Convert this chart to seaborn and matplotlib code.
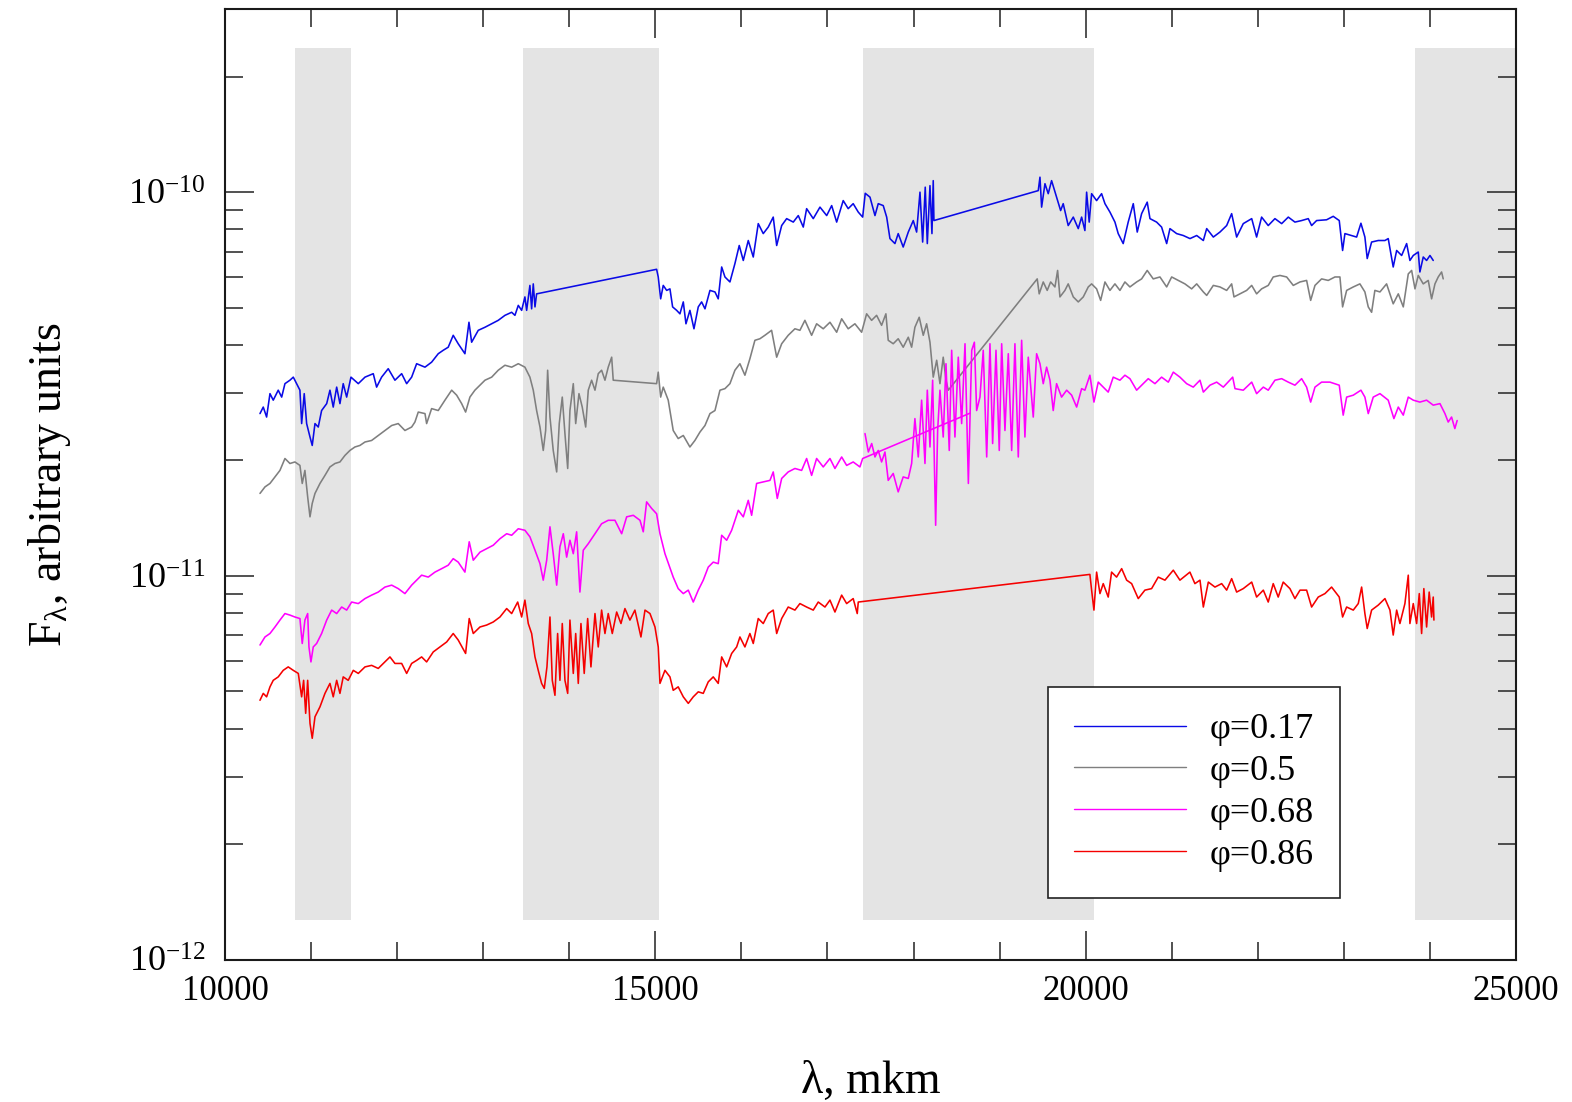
import numpy as np
import pandas as pd
import matplotlib
matplotlib.use("Agg")
import matplotlib.pyplot as plt
import seaborn as sns
from matplotlib.ticker import FixedLocator, MultipleLocator, LogLocator, NullFormatter, FuncFormatter

# ---------------------------------------------------------------------------
# Spectra: wavelength (Angstrom) and log10 of F_lambda for each phase
# ---------------------------------------------------------------------------
lam_017 = [
    10407, 10445, 10484, 10523, 10561, 10619, 10659, 10697, 10755, 10794,
    10833, 10871, 10891, 10921, 10949, 10988, 11014, 11046, 11084, 11123,
    11182, 11220, 11258, 11298, 11336, 11374, 11414, 11464, 11549, 11627,
    11723, 11762, 11820, 11897, 11975, 12053, 12111, 12169, 12227, 12324,
    12401, 12478, 12536, 12594, 12652, 12710, 12788, 12835, 12866, 12943,
    13021, 13099, 13175, 13253, 13331, 13369, 13408, 13447, 13485, 13505,
    13543, 13563, 13582, 13602, 13621, 15015, 15034, 15062, 15092, 15132,
    15170, 15201, 15248, 15286, 15325, 15356, 15402, 15449, 15499, 15538,
    15577, 15635, 15693, 15731, 15771, 15809, 15867, 15925, 15975, 16022,
    16080, 16138, 16196, 16254, 16312, 16370, 16410, 16468, 16526, 16603,
    16661, 16719, 16758, 16835, 16913, 16991, 17049, 17107, 17183, 17241,
    17299, 17358, 17409, 17439, 17494, 17552, 17590, 17648, 17688, 17726,
    17784, 17822, 17880, 17939, 17997, 18036, 18075, 18106, 18136, 18160,
    18191, 18214, 18229, 18237, 19449, 19469, 19488, 19527, 19565, 19604,
    19662, 19709, 19739, 19797, 19856, 19914, 19953, 19991, 20011, 20041,
    20069, 20127, 20185, 20224, 20282, 20340, 20378, 20436, 20494, 20553,
    20599, 20650, 20715, 20747, 20824, 20882, 20941, 20979, 21057, 21134,
    21212, 21290, 21367, 21406, 21483, 21560, 21638, 21696, 21754, 21831,
    21929, 21986, 22044, 22121, 22199, 22277, 22354, 22431, 22509, 22586,
    22625, 22683, 22799, 22876, 22946, 22985, 23012, 23090, 23148, 23198,
    23244, 23271, 23322, 23399, 23477, 23515, 23573, 23613, 23671, 23729,
    23767, 23806, 23864, 23883, 23922, 23961, 24000, 24038,
]
lgf_017 = [
    -10.577, -10.560, -10.586, -10.525, -10.542, -10.516, -10.534, -10.499, -10.490, -10.482,
    -10.499, -10.516, -10.603, -10.525, -10.603, -10.638, -10.660, -10.603, -10.612, -10.569,
    -10.551, -10.516, -10.560, -10.508, -10.551, -10.499, -10.534, -10.482, -10.499, -10.482,
    -10.473, -10.508, -10.482, -10.460, -10.490, -10.473, -10.499, -10.482, -10.447, -10.456,
    -10.443, -10.421, -10.412, -10.404, -10.373, -10.395, -10.421, -10.339, -10.391, -10.360,
    -10.352, -10.343, -10.334, -10.321, -10.313, -10.321, -10.295, -10.308, -10.273, -10.308,
    -10.243, -10.304, -10.239, -10.299, -10.265, -10.201, -10.221, -10.278, -10.243, -10.256,
    -10.252, -10.299, -10.308, -10.317, -10.286, -10.343, -10.308, -10.356, -10.299, -10.286,
    -10.304, -10.256, -10.260, -10.278, -10.195, -10.221, -10.234, -10.186, -10.139, -10.178,
    -10.126, -10.169, -10.082, -10.108, -10.091, -10.065, -10.139, -10.087, -10.069, -10.078,
    -10.061, -10.091, -10.043, -10.069, -10.039, -10.061, -10.035, -10.078, -10.022, -10.043,
    -10.030, -10.052, -10.065, -10.003, -10.013, -10.061, -10.030, -10.035, -10.065, -10.121,
    -10.134, -10.108, -10.143, -10.104, -10.074, -10.104, -10.000, -10.130, -9.987, -10.134,
    -9.983, -10.108, -9.970, -10.074, -9.996, -9.961, -10.039, -9.978, -10.004, -9.970,
    -10.013, -10.048, -10.030, -10.087, -10.065, -10.095, -10.065, -10.100, -10.000, -10.078,
    -10.004, -10.022, -10.004, -10.030, -10.052, -10.078, -10.108, -10.134, -10.078, -10.030,
    -10.104, -10.056, -10.026, -10.069, -10.078, -10.091, -10.134, -10.095, -10.108, -10.113,
    -10.121, -10.113, -10.126, -10.095, -10.117, -10.104, -10.087, -10.056, -10.117, -10.082,
    -10.069, -10.117, -10.065, -10.087, -10.069, -10.082, -10.065, -10.078, -10.074, -10.069,
    -10.087, -10.074, -10.072, -10.063, -10.074, -10.152, -10.108, -10.113, -10.117, -10.081,
    -10.117, -10.173, -10.130, -10.126, -10.126, -10.121, -10.195, -10.152, -10.165, -10.134,
    -10.178, -10.165, -10.156, -10.208, -10.169, -10.178, -10.165, -10.178,
]

lam_050 = [
    10407, 10465, 10523, 10581, 10639, 10697, 10755, 10813, 10871, 10898,
    10929, 10961, 10988, 11014, 11046, 11104, 11162, 11220, 11278, 11336,
    11394, 11452, 11510, 11568, 11627, 11704, 11781, 11859, 11937, 12013,
    12091, 12169, 12207, 12246, 12324, 12343, 12401, 12478, 12556, 12634,
    12692, 12750, 12796, 12846, 12904, 13021, 13099, 13175, 13253, 13331,
    13408, 13485, 13543, 13582, 13621, 13660, 13698, 13726, 13749, 13776,
    13814, 13854, 13884, 13919, 13950, 13982, 14008, 14047, 14075, 14113,
    14151, 14191, 14221, 14260, 14299, 14337, 14376, 14415, 14453, 14493,
    14511, 15015, 15034, 15062, 15092, 15150, 15208, 15266, 15325, 15402,
    15460, 15519, 15577, 15635, 15693, 15751, 15809, 15867, 15925, 15983,
    16041, 16099, 16157, 16215, 16273, 16351, 16410, 16468, 16544, 16622,
    16680, 16738, 16816, 16874, 16951, 17029, 17107, 17165, 17241, 17319,
    17397, 17455, 17513, 17571, 17629, 17679, 17706, 17764, 17822, 17880,
    17939, 17978, 18016, 18066, 18113, 18152, 18191, 18229, 18269, 18307,
    18345, 18377, 18404, 19437, 19460, 19507, 19553, 19593, 19643, 19674,
    19701, 19759, 19797, 19856, 19914, 19972, 20030, 20069, 20127, 20174,
    20224, 20282, 20340, 20398, 20456, 20514, 20592, 20650, 20715, 20785,
    20863, 20941, 20999, 21076, 21153, 21231, 21290, 21367, 21406, 21483,
    21560, 21638, 21696, 21723, 21792, 21870, 21929, 21986, 22044, 22121,
    22179, 22257, 22335, 22412, 22490, 22567, 22614, 22664, 22741, 22818,
    22896, 22954, 22985, 23032, 23109, 23186, 23244, 23283, 23322, 23360,
    23419, 23496, 23573, 23632, 23690, 23748, 23787, 23826, 23864, 23922,
    23980, 24019, 24058, 24096, 24135, 24154,
]
lgf_050 = [
    -10.785, -10.768, -10.759, -10.742, -10.725, -10.694, -10.707, -10.703, -10.712, -10.759,
    -10.725, -10.794, -10.846, -10.811, -10.785, -10.759, -10.738, -10.716, -10.707, -10.703,
    -10.686, -10.673, -10.664, -10.660, -10.651, -10.647, -10.634, -10.621, -10.608, -10.603,
    -10.621, -10.612, -10.599, -10.573, -10.577, -10.603, -10.564, -10.569, -10.542, -10.516,
    -10.529, -10.551, -10.573, -10.534, -10.516, -10.490, -10.482, -10.464, -10.451, -10.456,
    -10.447, -10.456, -10.482, -10.516, -10.569, -10.612, -10.673, -10.621, -10.464, -10.586,
    -10.673, -10.729, -10.603, -10.534, -10.629, -10.720, -10.569, -10.499, -10.603, -10.525,
    -10.560, -10.612, -10.516, -10.490, -10.516, -10.473, -10.464, -10.490, -10.456, -10.430,
    -10.490, -10.499, -10.469, -10.534, -10.508, -10.542, -10.621, -10.642, -10.634, -10.664,
    -10.647, -10.625, -10.608, -10.577, -10.569, -10.516, -10.512, -10.499, -10.464, -10.447,
    -10.477, -10.434, -10.386, -10.382, -10.373, -10.360, -10.430, -10.395, -10.373, -10.356,
    -10.360, -10.334, -10.373, -10.343, -10.356, -10.339, -10.365, -10.330, -10.356, -10.343,
    -10.365, -10.317, -10.334, -10.321, -10.347, -10.317, -10.386, -10.395, -10.382, -10.404,
    -10.378, -10.404, -10.352, -10.326, -10.373, -10.343, -10.391, -10.482, -10.438, -10.499,
    -10.430, -10.490, -10.516, -10.226, -10.265, -10.234, -10.256, -10.234, -10.247, -10.204,
    -10.273, -10.256, -10.239, -10.273, -10.286, -10.273, -10.247, -10.239, -10.252, -10.282,
    -10.234, -10.256, -10.239, -10.256, -10.234, -10.247, -10.234, -10.226, -10.204, -10.226,
    -10.221, -10.247, -10.221, -10.230, -10.239, -10.252, -10.239, -10.260, -10.269, -10.243,
    -10.247, -10.256, -10.239, -10.273, -10.265, -10.256, -10.243, -10.265, -10.252, -10.243,
    -10.221, -10.217, -10.221, -10.243, -10.234, -10.230, -10.282, -10.243, -10.226, -10.230,
    -10.221, -10.221, -10.299, -10.256, -10.247, -10.239, -10.260, -10.299, -10.313, -10.256,
    -10.260, -10.239, -10.291, -10.265, -10.299, -10.213, -10.204, -10.252, -10.217, -10.239,
    -10.230, -10.278, -10.239, -10.221, -10.208, -10.226,
]

# phase 0.68 is stored as two pieces: the blue part (ending in a jump)
# and the red part of the spectrum
lam_068a = [
    10407, 10465, 10523, 10581, 10639, 10697, 10755, 10813, 10871, 10898,
    10929, 10961, 10976, 10999, 11026, 11065, 11123, 11182, 11240, 11298,
    11356, 11414, 11472, 11549, 11627, 11704, 11781, 11859, 11937, 12013,
    12091, 12169, 12227, 12285, 12362, 12440, 12518, 12594, 12652, 12710,
    12788, 12838, 12885, 12963, 13040, 13117, 13195, 13273, 13331, 13408,
    13485, 13543, 13602, 13660, 13698, 13738, 13776, 13814, 13854, 13892,
    13931, 13970, 14008, 14047, 14086, 14124, 14163, 14221, 14299, 14376,
    14453, 14531, 14609, 14667, 14744, 14822, 14860, 14899, 14957, 15015,
    15054, 15112, 15208, 15266, 15325, 15383, 15441, 15499, 15557, 15615,
    15673, 15731, 15771, 15829, 15887, 15964, 16022, 16080, 16119, 16177,
    16254, 16332, 16370, 16417, 16468, 16544, 16622, 16700, 16758, 16816,
    16874, 16951, 17029, 17087, 17165, 17223, 17299, 17377, 17409, 18655,
]
lgf_068a = [
    -11.180, -11.159, -11.150, -11.133, -11.115, -11.098, -11.102, -11.107, -11.111, -11.176,
    -11.115, -11.098, -11.185, -11.224, -11.185, -11.176, -11.150, -11.115, -11.089, -11.098,
    -11.081, -11.089, -11.068, -11.072, -11.059, -11.050, -11.042, -11.029, -11.024, -11.033,
    -11.046, -11.024, -11.011, -10.998, -11.003, -10.990, -10.981, -10.972, -10.955, -10.964,
    -10.990, -10.911, -10.959, -10.938, -10.929, -10.920, -10.903, -10.890, -10.894, -10.877,
    -10.881, -10.898, -10.933, -10.968, -11.011, -10.959, -10.872, -10.942, -11.024, -10.924,
    -10.890, -10.951, -10.907, -10.942, -10.885, -11.042, -10.933, -10.916, -10.890, -10.864,
    -10.855, -10.855, -10.890, -10.846, -10.842, -10.855, -10.885, -10.807, -10.824, -10.838,
    -10.890, -10.942, -11.003, -11.033, -11.046, -11.037, -11.068, -11.037, -11.011, -10.977,
    -10.964, -10.968, -10.894, -10.907, -10.881, -10.829, -10.846, -10.803, -10.842, -10.759,
    -10.755, -10.751, -10.729, -10.798, -10.746, -10.729, -10.720, -10.725, -10.694, -10.738,
    -10.694, -10.716, -10.694, -10.720, -10.690, -10.712, -10.703, -10.716, -10.694, -10.576,
]
lam_068b = [
    17436, 17475, 17514, 17552, 17590, 17629, 17668, 17706, 17764, 17822,
    17880, 17939, 17978, 18016, 18055, 18094, 18133, 18160, 18191, 18222,
    18257, 18280, 18307, 18345, 18377, 18415, 18443, 18481, 18520, 18559,
    18598, 18637, 18676, 18707, 18733, 18772, 18810, 18850, 18888, 18919,
    18958, 18996, 19024, 19062, 19101, 19140, 19178, 19217, 19256, 19294,
    19333, 19391, 19430, 19469, 19507, 19546, 19585, 19623, 19662, 19720,
    19779, 19837, 19895, 19953, 19991, 20049, 20096, 20146, 20204, 20262,
    20320, 20398, 20456, 20514, 20592, 20669, 20727, 20805, 20882, 20960,
    21018, 21095, 21173, 21250, 21328, 21367, 21444, 21522, 21599, 21708,
    21735, 21831, 21929, 21986, 22064, 22121, 22199, 22277, 22354, 22431,
    22509, 22567, 22614, 22664, 22741, 22838, 22946, 22992, 23032, 23109,
    23198, 23244, 23283, 23341, 23419, 23515, 23581, 23632, 23690, 23748,
    23806, 23883, 23961, 24038, 24116, 24174, 24212, 24251, 24289, 24316,
]
lgf_068b = [
    -10.629, -10.677, -10.655, -10.690, -10.673, -10.703, -10.677, -10.751, -10.733, -10.781,
    -10.742, -10.746, -10.707, -10.590, -10.690, -10.542, -10.707, -10.516, -10.664, -10.490,
    -10.868, -10.621, -10.516, -10.638, -10.447, -10.673, -10.412, -10.638, -10.430, -10.603,
    -10.395, -10.759, -10.412, -10.391, -10.569, -10.534, -10.412, -10.690, -10.395, -10.655,
    -10.412, -10.673, -10.395, -10.621, -10.421, -10.673, -10.395, -10.690, -10.386, -10.638,
    -10.430, -10.586, -10.421, -10.447, -10.499, -10.456, -10.490, -10.569, -10.499, -10.534,
    -10.516, -10.529, -10.560, -10.512, -10.516, -10.477, -10.547, -10.495, -10.508, -10.521,
    -10.482, -10.490, -10.477, -10.486, -10.516, -10.499, -10.486, -10.499, -10.482, -10.495,
    -10.469, -10.482, -10.499, -10.508, -10.490, -10.521, -10.503, -10.495, -10.508, -10.482,
    -10.512, -10.516, -10.495, -10.525, -10.508, -10.516, -10.490, -10.486, -10.495, -10.503,
    -10.486, -10.508, -10.547, -10.508, -10.495, -10.495, -10.503, -10.581, -10.534, -10.529,
    -10.516, -10.534, -10.577, -10.534, -10.525, -10.542, -10.590, -10.560, -10.581, -10.534,
    -10.542, -10.547, -10.542, -10.555, -10.551, -10.577, -10.599, -10.586, -10.616, -10.595,
]

lam_086 = [
    10407, 10445, 10484, 10523, 10561, 10619, 10677, 10735, 10794, 10852,
    10891, 10914, 10938, 10961, 10988, 11014, 11046, 11104, 11162, 11220,
    11258, 11298, 11336, 11374, 11432, 11491, 11549, 11627, 11704, 11781,
    11859, 11917, 11975, 12053, 12111, 12169, 12227, 12285, 12343, 12420,
    12498, 12576, 12652, 12710, 12796, 12838, 12885, 12963, 13040, 13117,
    13195, 13273, 13331, 13401, 13447, 13485, 13524, 13563, 13602, 13640,
    13679, 13710, 13741, 13776, 13803, 13834, 13865, 13892, 13919, 13950,
    13982, 14008, 14047, 14075, 14105, 14136, 14174, 14214, 14252, 14299,
    14337, 14376, 14415, 14453, 14500, 14551, 14601, 14647, 14705, 14763,
    14833, 14880, 14938, 14996, 15034, 15054, 15112, 15170, 15208, 15266,
    15325, 15383, 15441, 15499, 15557, 15615, 15673, 15731, 15771, 15829,
    15887, 15945, 15983, 16041, 16099, 16138, 16196, 16254, 16312, 16370,
    16410, 16468, 16544, 16622, 16680, 16758, 16835, 16893, 16971, 17029,
    17087, 17165, 17223, 17299, 17346, 17358, 20049, 20069, 20096, 20127,
    20166, 20204, 20262, 20301, 20359, 20418, 20476, 20534, 20611, 20688,
    20766, 20843, 20921, 21018, 21095, 21211, 21269, 21328, 21367, 21425,
    21502, 21580, 21638, 21696, 21754, 21831, 21929, 21986, 22064, 22121,
    22179, 22237, 22295, 22373, 22431, 22490, 22567, 22625, 22702, 22780,
    22857, 22946, 22985, 23032, 23109, 23167, 23206, 23244, 23271, 23322,
    23399, 23477, 23535, 23573, 23613, 23651, 23709, 23748, 23767, 23806,
    23845, 23876, 23903, 23929, 23961, 23991, 24019, 24038, 24046,
]
lgf_086 = [
    -11.324, -11.306, -11.315, -11.289, -11.272, -11.263, -11.246, -11.237, -11.246, -11.254,
    -11.315, -11.272, -11.358, -11.272, -11.384, -11.423, -11.367, -11.341, -11.306, -11.280,
    -11.315, -11.272, -11.306, -11.263, -11.272, -11.246, -11.254, -11.237, -11.233, -11.241,
    -11.224, -11.211, -11.228, -11.228, -11.254, -11.228, -11.220, -11.211, -11.224, -11.198,
    -11.185, -11.172, -11.150, -11.167, -11.202, -11.111, -11.150, -11.133, -11.128, -11.120,
    -11.107, -11.085, -11.098, -11.068, -11.107, -11.063, -11.124, -11.150, -11.211, -11.246,
    -11.280, -11.293, -11.237, -11.107, -11.272, -11.311, -11.150, -11.272, -11.124, -11.272,
    -11.306, -11.115, -11.254, -11.150, -11.280, -11.124, -11.254, -11.111, -11.237, -11.098,
    -11.185, -11.089, -11.150, -11.098, -11.150, -11.094, -11.124, -11.085, -11.115, -11.089,
    -11.159, -11.089, -11.098, -11.133, -11.185, -11.280, -11.246, -11.263, -11.298, -11.289,
    -11.315, -11.332, -11.315, -11.302, -11.306, -11.276, -11.263, -11.280, -11.211, -11.237,
    -11.202, -11.185, -11.159, -11.185, -11.150, -11.176, -11.111, -11.124, -11.098, -11.089,
    -11.150, -11.111, -11.081, -11.089, -11.072, -11.081, -11.089, -11.068, -11.081, -11.063,
    -11.094, -11.050, -11.072, -11.059, -11.098, -11.068, -10.996, -11.037, -11.089, -10.990,
    -11.046, -11.020, -11.055, -10.990, -11.003, -10.981, -11.011, -11.020, -11.059, -11.037,
    -11.033, -11.003, -11.011, -10.985, -11.011, -10.990, -11.020, -11.011, -11.081, -11.016,
    -11.029, -11.020, -11.037, -11.007, -11.042, -11.033, -11.016, -11.055, -11.037, -11.068,
    -11.020, -11.055, -11.016, -11.033, -11.059, -11.037, -11.037, -11.081, -11.055, -11.046,
    -11.029, -11.055, -11.107, -11.081, -11.089, -11.072, -11.029, -11.098, -11.137, -11.089,
    -11.076, -11.059, -11.089, -11.154, -11.089, -11.124, -11.072, -10.998, -11.124, -11.072,
    -11.124, -11.046, -11.150, -11.033, -11.133, -11.042, -11.107, -11.055, -11.115,
]

phase_labels = ["φ=0.17", "φ=0.5", "φ=0.68", "φ=0.86"]
phase_colors = ["#0a0ae6", "#7f7f7f", "#ff00ff", "#f50000"]

# Telluric absorption bands (Angstrom) and their vertical extent
band_lo = [10810, 13460, 17410, 23830]
band_hi = [11460, 15040, 20100, 25000]
band_bottom, band_top = 1.27e-12, 2.38e-10

y_major = [1e-12, 1e-11, 1e-10]
x_major = [10000, 15000, 20000, 25000]

# ---------------------------------------------------------------------------
pieces = [
    (phase_labels[0], 0, lam_017, lgf_017),
    (phase_labels[1], 1, lam_050, lgf_050),
    (phase_labels[2], 2, lam_068a, lgf_068a),
    (phase_labels[2], 3, lam_068b, lgf_068b),
    (phase_labels[3], 4, lam_086, lgf_086),
]
df = pd.concat(
    [pd.DataFrame({"lam": lam, "flux": 10.0 ** np.asarray(lg), "phase": ph, "piece": k})
     for ph, k, lam, lg in pieces],
    ignore_index=True,
)

sns.set_theme(style="ticks")
plt.rcParams["font.family"] = ["Liberation Serif", "DejaVu Serif"]
plt.rcParams["mathtext.fontset"] = "custom"
plt.rcParams["mathtext.rm"] = "Liberation Serif"
plt.rcParams["mathtext.it"] = "Liberation Serif:italic"
plt.rcParams["mathtext.bf"] = "Liberation Serif:bold"
for key in ("text.color", "axes.labelcolor", "xtick.labelcolor", "ytick.labelcolor"):
    plt.rcParams[key] = "black"

fig = plt.figure(figsize=(15.72, 11.02), dpi=100, facecolor="white")
ax = fig.add_axes([0.1431, 0.1291, 0.8213, 0.8627])
ax.set_facecolor("white")

for lo, hi in zip(band_lo, band_hi):
    ax.fill_between([lo, hi], band_bottom, band_top, color="#e4e4e4", lw=0, zorder=0)

sns.lineplot(
    data=df, x="lam", y="flux", hue="phase", hue_order=phase_labels,
    palette=dict(zip(phase_labels, phase_colors)), units="piece",
    estimator=None, sort=False, linewidth=1.15, ax=ax, zorder=2,
)

ax.set_yscale("log")
ax.set_xlim(10000, 25000)
ax.set_ylim(1e-12, 3e-10)

ax.xaxis.set_major_locator(FixedLocator(x_major))
ax.xaxis.set_minor_locator(MultipleLocator(1000))
ax.yaxis.set_major_locator(FixedLocator(y_major))
ax.yaxis.set_minor_locator(LogLocator(base=10, subs=np.arange(2, 10), numticks=20))
ax.yaxis.set_minor_formatter(NullFormatter())
ax.yaxis.set_major_formatter(
    FuncFormatter(lambda v, pos: r"$10^{%d}$" % int(np.round(np.log10(v))))
)

ax.tick_params(axis="both", which="both", direction="in", top=True, right=True,
               color="#333333", width=1.2)
ax.tick_params(axis="both", which="major", length=21)
ax.tick_params(axis="both", which="minor", length=13)
ax.tick_params(axis="x", which="major", labelsize=25, pad=11, labelcolor="black")
ax.tick_params(axis="y", which="major", labelsize=26, pad=14, labelcolor="black")

for sp in ax.spines.values():
    sp.set_color("#1a1a1a")
    sp.set_linewidth(1.5)

ax.set_xlabel("λ, mkm", fontsize=33, labelpad=38, color="black")
ax.set_ylabel(r"F$_{\mathregular{λ}}$, arbitrary units", fontsize=33, labelpad=40,
              color="black")

handles, labels = ax.get_legend_handles_labels()
leg = ax.legend(
    handles, labels, loc="upper left", bbox_to_anchor=(0.6375, 0.287),
    frameon=True, fancybox=False, framealpha=1, edgecolor="#222222",
    fontsize=26, handlelength=3.1, handletextpad=0.65, borderpad=0.72,
    labelspacing=0.24, borderaxespad=0,
)
leg.get_frame().set_linewidth(1.2)
for h in leg.legend_handles:
    h.set_linewidth(1.0)
for t in leg.get_texts():
    t.set_color("black")

fig.savefig("out.png", dpi=100, facecolor="white")
